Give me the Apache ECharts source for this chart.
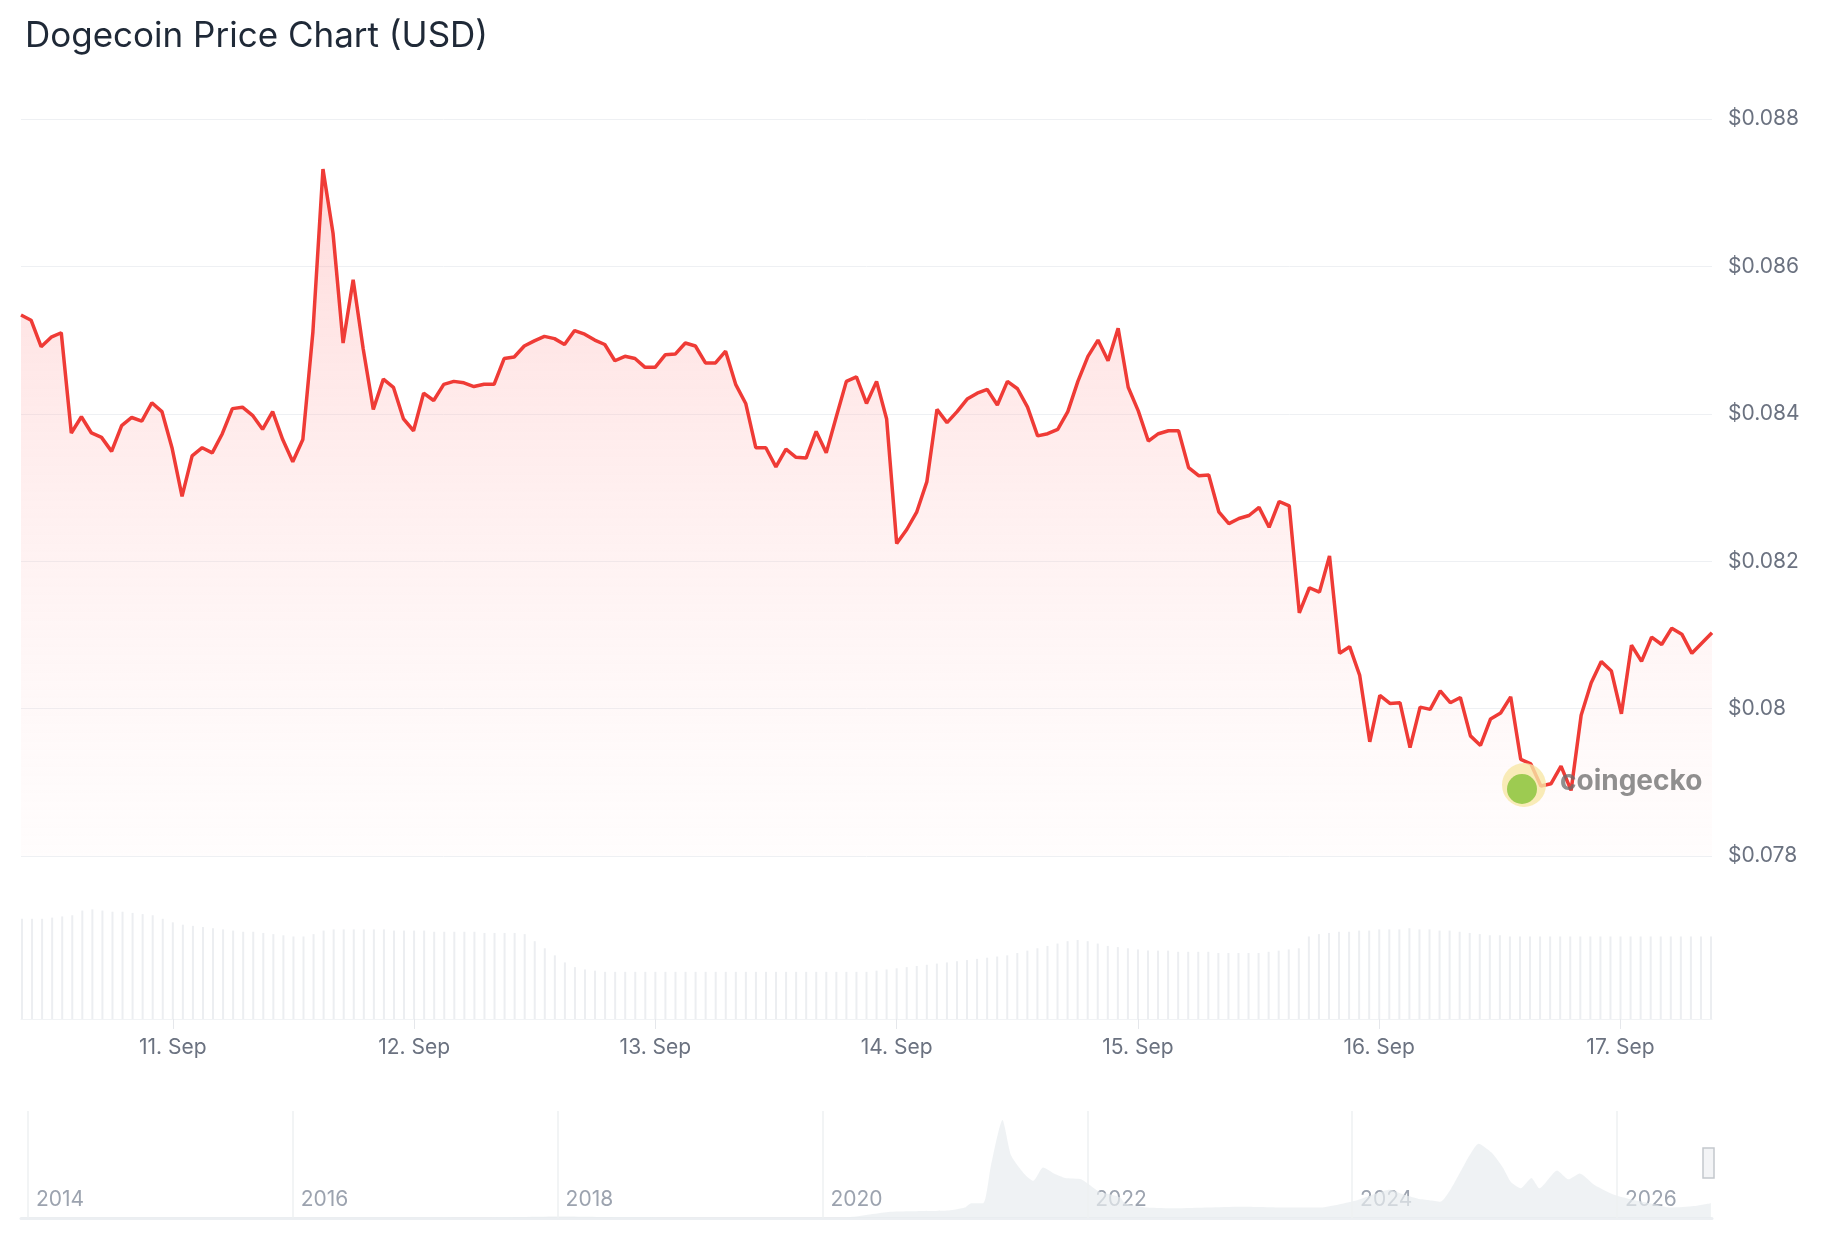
<!DOCTYPE html>
<html><head><meta charset="utf-8">
<script src="https://cdn.jsdelivr.net/npm/echarts@6/dist/echarts.min.js"></script>
<style>html,body{margin:0;padding:0;background:#fff}#c{width:1824px;height:1248px}</style>
</head><body><div id="c"></div>
<script>
const startTime = Date.UTC(2025, 8, 10, 9, 0);
const hourMs = 3600000;
const priceValues = [
0.08534,0.08527,0.08491,0.08504,0.08510,0.08374,0.08396,0.08374,0.08368,0.08349,
0.08384,0.08395,0.08390,0.08415,0.08403,0.08354,0.08288,0.08343,0.08354,0.08347,
0.08373,0.08407,0.08409,0.08398,0.08379,0.08403,0.08365,0.08335,0.08365,0.08511,
0.08732,0.08645,0.08496,0.08582,0.08488,0.08406,0.08447,0.08436,0.08393,0.08377,
0.08428,0.08418,0.08440,0.08444,0.08442,0.08437,0.08440,0.08440,0.08475,0.08477,
0.08492,0.08499,0.08505,0.08502,0.08494,0.08513,0.08508,0.08500,0.08494,0.08472,
0.08478,0.08475,0.08463,0.08463,0.08480,0.08481,0.08496,0.08492,0.08469,0.08469,
0.08485,0.08440,0.08414,0.08354,0.08354,0.08328,0.08352,0.08341,0.08340,0.08376,
0.08347,0.08396,0.08444,0.08450,0.08414,0.08444,0.08393,0.08224,0.08243,0.08267,
0.08308,0.08406,0.08388,0.08403,0.08420,0.08428,0.08433,0.08412,0.08444,0.08434,
0.08409,0.08370,0.08373,0.08379,0.08403,0.08444,0.08478,0.08500,0.08472,0.08516,
0.08436,0.08404,0.08363,0.08373,0.08377,0.08377,0.08327,0.08316,0.08317,0.08267,
0.08251,0.08258,0.08262,0.08273,0.08246,0.08281,0.08275,0.08130,0.08164,0.08158,
0.08207,0.08075,0.08084,0.08045,0.07955,0.08018,0.08007,0.08008,0.07947,0.08002,
0.07999,0.08024,0.08008,0.08015,0.07963,0.07950,0.07986,0.07994,0.08016,0.07931,
0.07925,0.07895,0.07898,0.07922,0.07889,0.07991,0.08035,0.08064,0.08051,0.07993,
0.08086,0.08064,0.08097,0.08087,0.08109,0.08101,0.08075,0.08089,0.08103];
const volumeValues = [
85,85,85,86,87,88,92,93,92,91,91,90,89,88,85,82,80,79,78,77,
76,75,74,74,73,72,71,70,70,72,75,76,76,76,76,76,76,75,75,75,
75,74,74,74,74,74,73,73,73,73,72,66,60,54,48,44,42,41,40,40,
40,40,40,40,40,40,40,40,40,40,40,40,40,40,40,40,40,40,40,40,
40,40,40,40,40,41,42,43,44,45,46,47,48,49,50,51,52,53,54,56,
58,60,62,64,66,67,66,64,62,61,60,59,58,58,58,57,57,57,57,56,
56,56,56,56,57,58,59,60,70,72,73,74,74,75,75,76,76,76,77,76,
76,75,75,74,73,72,71,71,70,70,70,70,70,70,70,70,70,70,70,70,
70,70,70,70,70,70,70,70,70];
const historyDates = ['2013-12-15','2014-06-01','2015-06-01','2016-06-01','2017-06-01','2018-01-10','2018-07-01','2019-06-01','2020-03-01','2020-07-01','2020-09-01','2020-12-15','2021-01-28','2021-02-15','2021-03-20','2021-04-10','2021-05-12','2021-06-05','2021-07-10','2021-08-05','2021-09-01','2021-10-01','2021-11-01','2021-12-15','2022-02-01','2022-04-01','2022-04-15','2022-06-15','2022-09-01','2022-12-01','2023-03-01','2023-07-01','2023-10-01','2024-01-15','2024-04-15','2024-05-20','2024-07-01','2024-08-01','2024-09-01','2024-10-01','2024-11-20','2024-12-15','2025-01-20','2025-02-20','2025-03-15','2025-04-10','2025-05-10','2025-06-01','2025-07-20','2025-08-20','2025-09-20','2025-11-01','2025-12-20','2026-02-01','2026-04-01','2026-06-01','2026-08-01','2026-09-17'];
const historyValues = [0.001,0.001,0.001,0.001,0.003,0.01,0.005,0.003,0.003,0.04,0.045,0.05,0.07,0.1,0.1,0.35,0.66,0.42,0.3,0.25,0.34,0.3,0.27,0.26,0.18,0.14,0.1,0.07,0.065,0.07,0.075,0.07,0.07,0.12,0.19,0.16,0.13,0.12,0.11,0.2,0.42,0.5,0.44,0.34,0.24,0.2,0.27,0.2,0.32,0.26,0.3,0.22,0.16,0.13,0.1,0.07,0.08,0.1];
const yearTicks = [2014,2016,2018,2020,2022,2024,2026];
const priceTicks = [0.078,0.080,0.082,0.084,0.086,0.088];

const priceData = priceValues.map((v,i)=>[startTime+i*hourMs, v]);
const volumeData = volumeValues.map((v,i)=>[startTime+i*hourMs, v]);
const historyData = historyDates.map((d,i)=>[d, historyValues[i]]);
const yearTimes = yearTicks.map(y=>Date.UTC(y,0,1));
const navMin = Date.UTC(2013,11,13), navMax = Date.UTC(2026,8,20);
const toYear = t => { const d=new Date(t); const y=d.getUTCFullYear(); const a=Date.UTC(y,0,1), b=Date.UTC(y+1,0,1); return y+(t-a)/(b-a); };
const tMin = startTime, tMax = startTime+(priceValues.length-1)*hourMs;
const grey = '#6b7280';
const chart = echarts.init(document.getElementById('c'));
chart.setOption({
  animation:false,
  title:{text:'Dogecoin Price Chart (USD)',left:20,top:14,textStyle:{fontFamily:'Inter',fontSize:35,fontWeight:'normal',color:'#1f2937'}},
  grid:[
    {left:21,right:112,top:119,height:737},
    {left:21,right:112,top:907,height:112},
    {left:21,right:112,top:1111,height:107}
  ],
  xAxis:[
    {type:'time',gridIndex:0,min:tMin,max:tMax,show:false},
    {type:'time',gridIndex:1,min:tMin,max:tMax,interval:86400000,
      axisLine:{show:true,lineStyle:{color:'#f1f3f5'}},
      axisTick:{show:true,length:10,lineStyle:{color:'#e5e7eb'}},
      splitLine:{show:false},
      axisLabel:{color:grey,fontFamily:'Inter',fontSize:21,margin:18,
        formatter:v=>{const d=new Date(v);return d.getUTCDate()+'. Sep';}}},
    {type:'time',gridIndex:2,min:navMin,max:navMax,
      axisLine:{show:true,lineStyle:{color:'#eceff2',width:3}},axisTick:{show:false},
      splitLine:{show:false},axisLabel:{show:false}},
    {type:'value',gridIndex:2,min:toYear(navMin),max:toYear(navMax),position:'bottom',offset:0,
      axisLine:{show:false},axisTick:{show:false},splitLine:{show:false},
      axisLabel:{inside:true,customValues:yearTicks,color:'#9ca3af',fontFamily:'Inter',fontSize:21,align:'left',padding:[0,0,4,8],verticalAlign:'bottom',margin:4,
        formatter:v=>String(Math.round(v))}}
  ],
  yAxis:[
    {type:'value',gridIndex:0,position:'right',min:0.078,max:0.088,interval:0.002,
      axisLine:{show:false},axisTick:{show:false},
      splitLine:{lineStyle:{color:'#eef0f3'}},
      axisLabel:{color:grey,fontFamily:'Inter',fontSize:21,margin:16,formatter:v=>'$'+(+v.toFixed(3))}},
    {type:'value',gridIndex:1,min:0,max:95,show:false},
    {type:'value',gridIndex:2,min:0,max:0.72,show:false}
  ],
  graphic:[
    {type:'circle',shape:{cx:1524,cy:785,r:22},style:{fill:'#f7e7a6',opacity:0.8},z:10},
    {type:'circle',shape:{cx:1522,cy:789,r:15},style:{fill:'#8dc63f',opacity:0.85},z:11},
    {type:'text',left:1560,top:768,style:{text:'coingecko',font:'bold 28px Inter',fill:'#6b6b6b',opacity:0.75},z:11},
    {type:'rect',shape:{x:1703,y:1148,width:11,height:30},style:{fill:'#f3f4f6',stroke:'#c4c8cd',lineWidth:1.5},z:20}
  ],
  series:[
    {type:'line',xAxisIndex:0,yAxisIndex:0,data:priceData,showSymbol:false,
      lineStyle:{color:'#ef3b36',width:3.5},
      areaStyle:{origin:'start',color:new echarts.graphic.LinearGradient(0,0,0,1,[{offset:0,color:'rgba(255,160,160,0.55)'},{offset:1,color:'rgba(255,220,220,0.1)'}])}},
    {type:'bar',xAxisIndex:1,yAxisIndex:1,data:volumeData,barWidth:2,itemStyle:{color:'#eceef1'}},
    {type:'line',xAxisIndex:2,yAxisIndex:2,data:historyData,showSymbol:false,smooth:0.2,
      lineStyle:{width:0},areaStyle:{color:'#e8ecef'},
      markLine:{silent:true,symbol:'none',label:{show:false},lineStyle:{color:'#eef0f2',type:'solid',width:1.5},
        data:yearTimes.map(t=>({xAxis:t}))}}
  ]
});
</script></body></html>
